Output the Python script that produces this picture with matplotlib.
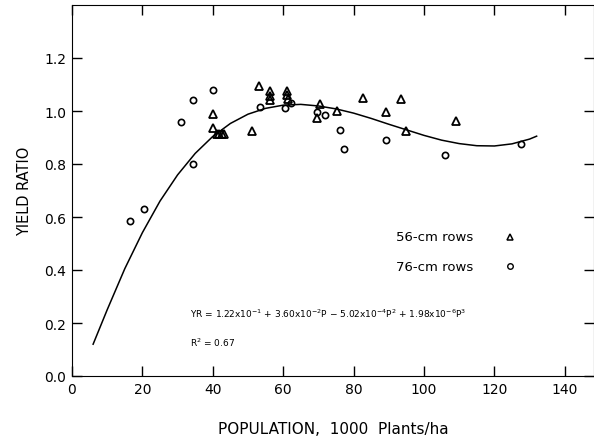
import matplotlib
matplotlib.use("Agg")
import matplotlib.pyplot as plt

# 56-cm rows (triangles)
pop56 = [40.1, 40.1, 41.2, 41.9, 42.6, 43.2, 51.0, 53.2, 56.3, 56.3, 56.3,
         61.0, 61.0, 61.3, 69.7, 70.5, 75.4, 82.6, 89.2, 93.4, 94.9, 109.1]
yr56 = [0.99, 0.937, 0.915, 0.915, 0.915, 0.915, 0.926, 1.095, 1.077, 1.058, 1.04,
        1.077, 1.06, 1.045, 0.975, 1.026, 1.0, 1.05, 0.995, 1.045, 0.926, 0.963]

# 76-cm rows (circles)
pop76 = [16.5, 20.5, 31.0, 34.3, 34.5, 40.0, 53.4, 60.5, 62.2, 69.7,
         71.9, 76.0, 77.4, 89.2, 106.0, 127.5]
yr76 = [0.586, 0.63, 0.96, 1.04, 0.80, 1.08, 1.014, 1.01, 1.03, 0.995,
        0.985, 0.93, 0.857, 0.892, 0.834, 0.875]

# fitted curve
curve_p = [6, 10, 15, 20, 25, 30, 35, 40, 45, 50, 55, 60, 65, 70, 75, 80, 85,
           90, 95, 100, 105, 110, 115, 120, 125, 130, 132]
curve_y = [0.12, 0.25, 0.405, 0.541, 0.66, 0.759, 0.84, 0.904, 0.953, 0.988,
           1.01, 1.022, 1.025, 1.019, 1.008, 0.992, 0.972, 0.95, 0.929, 0.908,
           0.89, 0.877, 0.869, 0.868, 0.876, 0.894, 0.905]

xticks = [0, 20, 40, 60, 80, 100, 120, 140]
yticks = [0.0, 0.2, 0.4, 0.6, 0.8, 1.0, 1.2]

fig = plt.figure(figsize=(5.94, 4.39), dpi=100)
ax = fig.add_axes([72/594, 1-377/439, 1-72/594, (377-6)/439])

ax.plot(curve_p, curve_y, color="black", lw=1.1)
ax.plot(pop56, yr56, linestyle="none", marker="^", ms=6, mfc="none",
        mec="black", mew=1.3)
ax.plot(pop76, yr76, linestyle="none", marker="o", ms=4.5, mfc="none",
        mec="black", mew=1.2)

ax.set_xlim(0, 148.3)
ax.set_ylim(0, 1.4)
ax.set_xticks(xticks)
ax.set_yticks(yticks)
ax.set_yticklabels([f"{v:.1f}" for v in yticks])
ax.tick_params(direction="in", length=7, width=1, labelsize=10, pad=4,
               top=True, right=True)

ax.set_xlabel("POPULATION,  1000  Plants/ha", fontsize=11, labelpad=18)
ax.set_ylabel("YIELD RATIO", fontsize=10.5, labelpad=9)

# legend drawn as text + markers
ax.text(92.0, 0.525, "56-cm rows", fontsize=9.5, va="center")
ax.plot([124.5], [0.525], marker="^", ms=5, mfc="none", mec="black", mew=1.1)
ax.text(92.0, 0.415, "76-cm rows", fontsize=9.5, va="center")
ax.plot([124.3], [0.415], marker="o", ms=4, mfc="none", mec="black", mew=1.0)

ax.text(33.5, 0.24,
        r"YR = 1.22x10$^{-1}$ + 3.60x10$^{-2}$P $-$ 5.02x10$^{-4}$P$^2$ + 1.98x10$^{-6}$P$^3$",
        fontsize=6.5, va="center")
ax.text(33.5, 0.13, r"R$^2$ = 0.67", fontsize=6.5, va="center")

fig.savefig("out.png", dpi=100)
